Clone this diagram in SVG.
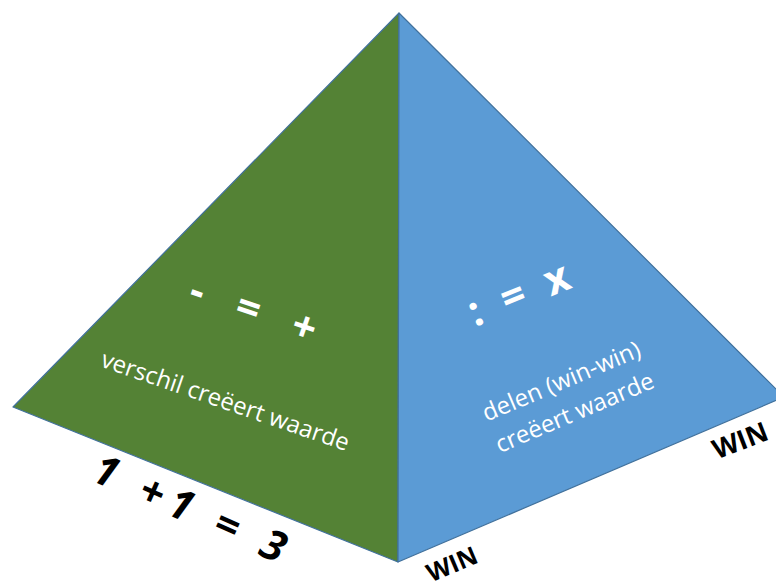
<svg xmlns="http://www.w3.org/2000/svg" width="776" height="588" viewBox="0 0 776 588">
<style>
.face{stroke:#41719c;stroke-width:1.2;stroke-linejoin:round}
.sym{font-family:"Open Sans","Liberation Sans",sans-serif;font-weight:bold;fill:#ffffff;font-size:42px;text-anchor:middle}
.lbl{font-family:"Open Sans","Liberation Sans",sans-serif;fill:#ffffff;font-size:24px;text-anchor:middle}
.blk{font-family:"Open Sans","Liberation Sans",sans-serif;font-weight:bold;fill:#000000;text-anchor:middle}
</style>
<rect width="776" height="588" fill="#ffffff"/>
<g id="left-face">
<polygon class="face" points="399,13 13,407 398,562" fill="#548235"/>
<g transform="translate(253,311) rotate(19)"><text class="sym" x="6" y="13" letter-spacing="12">- = +</text></g>
<g transform="translate(225,402) rotate(19)"><text class="lbl" x="0" y="7" font-size="25">verschil creëert waarde</text></g>
</g>
<g id="right-face">
<polygon class="face" points="399,13 784,397 398,562" fill="#5b9bd5"/>
<g transform="translate(520,297) rotate(-22)"><text class="sym" x="3" y="11" letter-spacing="6">: = x</text></g>
<g transform="translate(568,397) rotate(-23)">
<text class="lbl" x="0" y="-9">delen (win-win)</text>
<text class="lbl" x="0" y="25">creëert waarde</text>
</g>
</g>
<g id="label-sum" transform="translate(190,508) rotate(24)"><text class="blk" font-size="42" font-style="italic" x="4" y="15" letter-spacing="8">1 +1 = 3</text></g>
<g id="label-win-bottom" transform="translate(452,564) rotate(-23)"><text class="blk" font-size="25" x="0" y="9">WIN</text></g>
<g id="label-win-right" transform="translate(740,440) rotate(-21)"><text class="blk" font-size="27" x="0" y="10">WIN</text></g>
</svg>
